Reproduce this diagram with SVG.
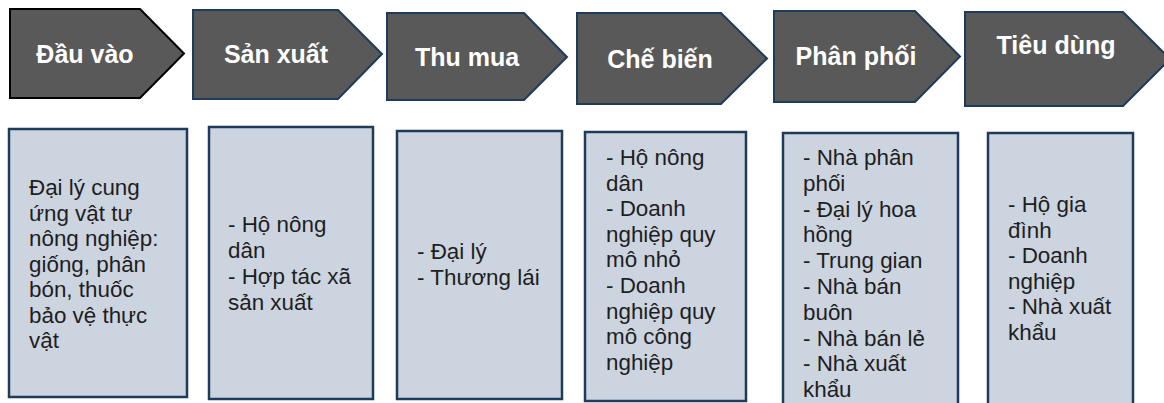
<svg xmlns="http://www.w3.org/2000/svg" width="1164" height="403" viewBox="0 0 1164 403">
<style>
.chev{fill:#595959;stroke:#1F3B5C;stroke-width:2;stroke-linejoin:miter}
.chev1{stroke:#000000}
.ct{font-family:"Liberation Sans",Arial,sans-serif;font-weight:bold;font-size:25px;fill:#FFFFFF;text-anchor:middle}
.box{fill:#CCD4E0;stroke:#1F3B5C;stroke-width:2.5}
.bt{font-family:"Liberation Sans",Arial,sans-serif;font-size:22.4px;fill:#1E1E1E}
</style>
<rect width="1164" height="403" fill="#FFFFFF"/>
<g id="stage-dau-vao">
<polygon class="chev chev1" points="10,9 140,9 184,53.5 140,98 10,98"/>
<text class="ct" x="85" y="63">Đầu vào</text>
</g>
<g id="stage-san-xuat">
<polygon class="chev" points="193,10 338,10 382,54 338,99 193,99"/>
<text class="ct" x="276" y="63">Sản xuất</text>
</g>
<g id="stage-thu-mua">
<polygon class="chev" points="387,13 524,13 567,57 524,100 387,100"/>
<text class="ct" x="467" y="66">Thu mua</text>
</g>
<g id="stage-che-bien">
<polygon class="chev" points="577,13 721,13 767,58.5 721,104 577,104"/>
<text class="ct" x="660" y="68">Chế biến</text>
</g>
<g id="stage-phan-phoi">
<polygon class="chev" points="774,11 915,11 960,56.5 915,102 774,102"/>
<text class="ct" x="856" y="65">Phân phối</text>
</g>
<g id="stage-tieu-dung">
<polygon class="chev" points="965,12 1123,12 1170,59 1123,106 965,106"/>
<text class="ct" x="1056" y="54">Tiêu dùng</text>
</g>
<g id="connectors"></g>
<g id="box-dau-vao">
<rect class="box" x="9" y="129" width="178" height="268"/>
<text class="bt" x="29" y="195"><tspan x="29" dy="0">Đại lý cung</tspan><tspan x="29" dy="25.5">ứng vật tư</tspan><tspan x="29" dy="25.5">nông nghiệp:</tspan><tspan x="29" dy="25.5">giống, phân</tspan><tspan x="29" dy="25.5">bón, thuốc</tspan><tspan x="29" dy="25.5">bảo vệ thực</tspan><tspan x="29" dy="25.5">vật</tspan></text>
</g>
<g id="box-san-xuat">
<rect class="box" x="209" y="127" width="164" height="272"/>
<text class="bt" x="228" y="232"><tspan x="228" dy="0">- Hộ nông</tspan><tspan x="228" dy="26">dân</tspan><tspan x="228" dy="26">- Hợp tác xã</tspan><tspan x="228" dy="26">sản xuất</tspan></text>
</g>
<g id="box-thu-mua">
<rect class="box" x="397" y="131" width="165" height="268"/>
<text class="bt" x="417" y="259"><tspan x="417" dy="0">- Đại lý</tspan><tspan x="417" dy="26">- Thương lái</tspan></text>
</g>
<g id="box-che-bien">
<rect class="box" x="585" y="132" width="161" height="269"/>
<text class="bt" x="606" y="165"><tspan x="606" dy="0">- Hộ nông</tspan><tspan x="606" dy="25.6">dân</tspan><tspan x="606" dy="25.6">- Doanh</tspan><tspan x="606" dy="25.6">nghiệp quy</tspan><tspan x="606" dy="25.6">mô nhỏ</tspan><tspan x="606" dy="25.6">- Doanh</tspan><tspan x="606" dy="25.6">nghiệp quy</tspan><tspan x="606" dy="25.6">mô công</tspan><tspan x="606" dy="25.6">nghiệp</tspan></text>
</g>
<g id="box-phan-phoi">
<rect class="box" x="783" y="133" width="175" height="280"/>
<text class="bt" x="803" y="165"><tspan x="803" dy="0">- Nhà phân</tspan><tspan x="803" dy="25.8">phối</tspan><tspan x="803" dy="25.8">- Đại lý hoa</tspan><tspan x="803" dy="25.8">hồng</tspan><tspan x="803" dy="25.8">- Trung gian</tspan><tspan x="803" dy="25.8">- Nhà bán</tspan><tspan x="803" dy="25.8">buôn</tspan><tspan x="803" dy="25.8">- Nhà bán lẻ</tspan><tspan x="803" dy="25.8">- Nhà xuất</tspan><tspan x="803" dy="25.8">khẩu</tspan></text>
</g>
<g id="box-tieu-dung">
<rect class="box" x="988" y="133" width="145" height="280"/>
<text class="bt" x="1008" y="212"><tspan x="1008" dy="0">- Hộ gia</tspan><tspan x="1008" dy="25.6">đình</tspan><tspan x="1008" dy="25.6">- Doanh</tspan><tspan x="1008" dy="25.6">nghiệp</tspan><tspan x="1008" dy="25.6">- Nhà xuất</tspan><tspan x="1008" dy="25.6">khẩu</tspan></text>
</g>
</svg>
